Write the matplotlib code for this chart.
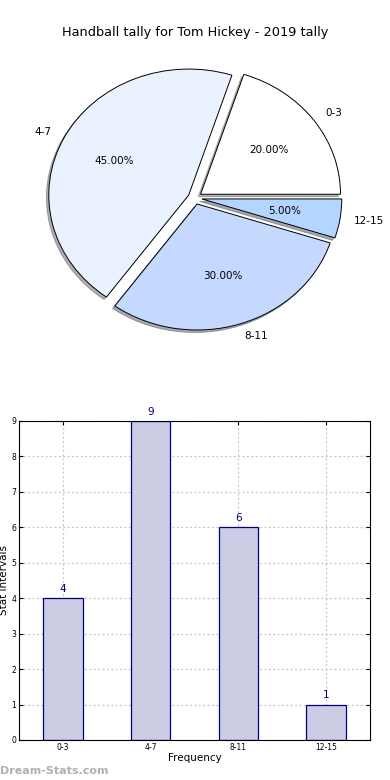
import matplotlib
matplotlib.use("Agg")
import matplotlib.pyplot as plt

# data
categories = ["0-3", "4-7", "8-11", "12-15"]
counts = [4, 9, 6, 1]
pie_colors = ["#ffffff", "#eaf1ff", "#c5d9ff", "#b3d5ff"]
explode = [0.05, 0.05, 0.05, 0.05]

fig = plt.figure(figsize=(3.9, 7.8), dpi=100)

# pie (old-style, not forced to equal aspect)
ax1 = fig.add_axes([0.0513, 0.5442, 0.897, 0.404])
ax1.pie(counts, labels=categories, colors=pie_colors, explode=explode,
        autopct="%1.2f%%", startangle=0,
        shadow=dict(ox=-0.012, oy=-0.014, shade=0.6),
        wedgeprops=dict(edgecolor="black", linewidth=0.7),
        textprops=dict(fontsize=7.5))
ax1.set_aspect("auto")
ax1.set_xlim(-1.25, 1.25)
ax1.set_ylim(-1.25, 1.25)
ax1.set_title("Handball tally for Tom Hickey - 2019 tally", fontsize=9.3, pad=3)

# bars
ax2 = fig.add_axes([0.0487, 0.0513, 0.9, 0.409])
x = range(len(categories))
ax2.bar(x, counts, width=0.45, color="#ccccE5", edgecolor="navy", linewidth=0.9, zorder=2)
for xi, c in zip(x, counts):
    ax2.text(xi, c + 0.12, str(c), ha="center", va="bottom", color="navy", fontsize=7.5)
ax2.set_xlim(-0.5, 3.5)
ax2.set_ylim(0, 9)
ax2.set_yticks(range(10))
ax2.set_xticks(list(x))
ax2.set_xticklabels(categories)
ax2.tick_params(direction="in", top=True, right=True, labelsize=5.5, length=3, pad=2)
ax2.grid(True, linestyle=(0, (1.5, 2)), color="#c4c4c4", linewidth=0.9, zorder=0)
ax2.set_axisbelow(True)
ax2.set_xlabel("Frequency", fontsize=7.5, labelpad=1)
ax2.set_ylabel("Stat Intervals", fontsize=7.5, labelpad=2)

fig.text(0.0, 0.005, "Dream-Stats.com", color="#b0b0b0", fontsize=8, fontweight="bold", ha="left", va="bottom")

fig.savefig("out.png", dpi=100)
